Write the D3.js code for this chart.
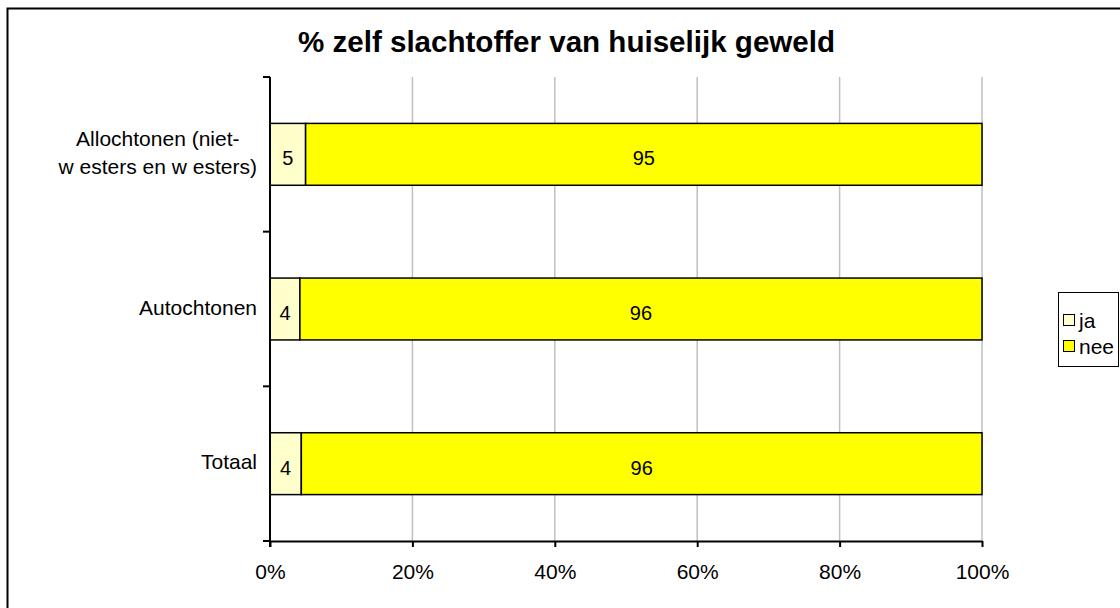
<!DOCTYPE html>
<html>
<head>
<meta charset="utf-8">
<script src="https://cdn.jsdelivr.net/npm/d3@7"></script>
<style>
  body { margin: 0; background: #fff; }
  text { font-family: "Liberation Sans", Arial, sans-serif; fill: #000; }
</style>
</head>
<body>
<svg id="chart" width="1120" height="608"></svg>
<script>
// data
const categories = [
  ['Allochtonen (niet-', 'w esters en w esters)'],
  ['Autochtonen'],
  ['Totaal']
];
const seriesNames = ['ja', 'nee'];
const jaValues = [5.0, 4.2, 4.4];
const neeValues = [95.0, 95.8, 95.6];
const xTicks = [0, 20, 40, 60, 80, 100];
const colors = ['#FFFFCC', '#FFFF00'];

const svg = d3.select('#chart');

// outer frame (runs off the right/bottom edge like the screenshot)
svg.append('rect')
  .attr('x', 7.5).attr('y', 8.5)
  .attr('width', 1130).attr('height', 620)
  .attr('fill', 'none').attr('stroke', '#000').attr('stroke-width', 2);

const margin = { left: 270, right: 982, top: 77, bottom: 541 };

const x = d3.scaleLinear().domain([0, 100]).range([margin.left, margin.right]);
const y = d3.scaleBand()
  .domain(categories.map((d, i) => i))
  .range([margin.top, margin.bottom]);

const barH = y.bandwidth() * 0.4;

// gridlines
svg.append('g')
  .selectAll('line')
  .data(xTicks.slice(1))
  .join('line')
  .attr('x1', d => x(d)).attr('x2', d => x(d))
  .attr('y1', margin.top).attr('y2', margin.bottom)
  .attr('stroke', '#C0C0C0').attr('stroke-width', 1.5);

// stacked rows
const rows = categories.map((c, i) => {
  const ja = jaValues[i], nee = neeValues[i];
  return [
    { i, key: 'ja', x0: 0, x1: ja, v: ja },
    { i, key: 'nee', x0: ja, x1: ja + nee, v: nee }
  ];
}).flat();

svg.append('g')
  .selectAll('rect')
  .data(rows)
  .join('rect')
  .attr('x', d => x(d.x0))
  .attr('width', d => x(d.x1) - x(d.x0))
  .attr('y', d => y(d.i) + (y.bandwidth() - barH) / 2)
  .attr('height', barH)
  .attr('fill', d => colors[seriesNames.indexOf(d.key)])
  .attr('stroke', '#000').attr('stroke-width', 1.5);

svg.append('g')
  .selectAll('text')
  .data(rows)
  .join('text')
  .attr('x', d => x((d.x0 + d.x1) / 2))
  .attr('y', d => y(d.i) + y.bandwidth() / 2 + 11)
  .attr('text-anchor', 'middle')
  .attr('font-size', 20)
  .text(d => Math.round(d.v));

// x axis
const xAxis = d3.axisBottom(x)
  .tickValues(xTicks)
  .tickFormat(d => d + '%')
  .tickSize(6)
  .tickSizeOuter(0);

const gx = svg.append('g')
  .attr('transform', `translate(0,${margin.bottom})`)
  .call(xAxis);
gx.select('.domain').attr('stroke', '#000').attr('stroke-width', 2);
gx.selectAll('.tick line').attr('stroke', '#000').attr('stroke-width', 2);
gx.selectAll('.tick text')
  .attr('font-size', 21)
  .attr('font-family', '"Liberation Sans", Arial, sans-serif')
  .attr('fill', '#000')
  .attr('y', 38)
  .attr('dy', null);

// y axis: ticks on category boundaries
const yAxisG = svg.append('g');
yAxisG.append('line')
  .attr('x1', margin.left).attr('x2', margin.left)
  .attr('y1', margin.top).attr('y2', margin.bottom + 6)
  .attr('stroke', '#000').attr('stroke-width', 2);
const boundaries = categories.map((d, i) => y(i)).concat([margin.bottom]);
yAxisG.selectAll('line.tk')
  .data(boundaries)
  .join('line')
  .attr('class', 'tk')
  .attr('x1', margin.left - 7).attr('x2', margin.left)
  .attr('y1', d => d).attr('y2', d => d)
  .attr('stroke', '#000').attr('stroke-width', 2);

// category labels: block right-aligned, lines centred within the block
const lineH = 28;
const labelRight = margin.left - 13;
const labels = yAxisG.selectAll('text')
  .data(categories)
  .join('text')
  .attr('font-size', 21)
  .attr('text-anchor', 'middle');
labels.each(function(d, i) {
  const t = d3.select(this);
  const spans = t.selectAll('tspan')
    .data(d)
    .join('tspan')
    .text(s => s);
  let maxW = 0;
  spans.each(function() { maxW = Math.max(maxW, this.getComputedTextLength()); });
  const cx = labelRight - maxW / 2;
  const cy = y(i) + y.bandwidth() / 2 - 2;
  spans
    .attr('x', cx)
    .attr('y', (s, j) => cy + (j - (d.length - 1) / 2) * lineH + 7.5);
});

// title
svg.append('text')
  .attr('x', 298).attr('y', 52)
  .attr('font-size', 29.5)
  .attr('font-weight', 'bold')
  .attr('textLength', 537)
  .attr('lengthAdjust', 'spacingAndGlyphs')
  .text('% zelf slachtoffer van huiselijk geweld');

// legend
const lg = svg.append('g');
lg.append('rect')
  .attr('x', 1058.5).attr('y', 292.5)
  .attr('width', 60).attr('height', 74)
  .attr('fill', '#fff').attr('stroke', '#000').attr('stroke-width', 1);
const items = lg.selectAll('g')
  .data(seriesNames)
  .join('g')
  .attr('transform', (d, i) => `translate(1063,${320 + i * 26})`);
items.append('rect')
  .attr('x', 0.5).attr('y', -5.5)
  .attr('width', 11).attr('height', 11)
  .attr('fill', (d, i) => colors[i])
  .attr('stroke', '#000').attr('stroke-width', 1);
items.append('text')
  .attr('x', 16).attr('y', 7.5)
  .attr('font-size', 21)
  .text(d => d);
</script>
</body>
</html>
